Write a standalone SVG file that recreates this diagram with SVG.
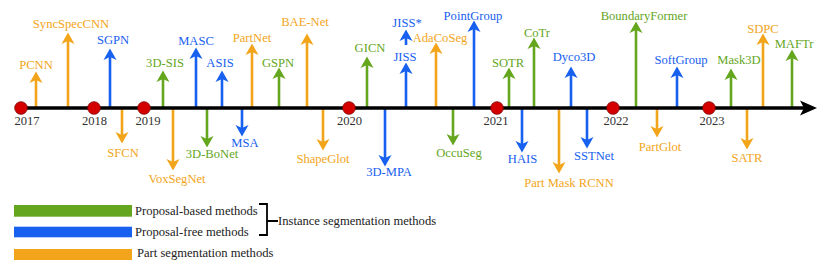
<svg xmlns="http://www.w3.org/2000/svg" width="830" height="274" viewBox="0 0 830 274" font-family="'Liberation Serif', 'DejaVu Serif', serif">
<style>
text{font-family:'Liberation Serif','DejaVu Serif',serif;font-size:12.6px;text-anchor:middle}
.g{fill:#64a61e}.b{fill:#1760f0}.o{fill:#f2a51a}
.lg{stroke:#64a61e}.lb{stroke:#1760f0}.lo{stroke:#f2a51a}
line.a{stroke-width:2.6}
.yr{fill:#333}
.leg{text-anchor:start;fill:#222}
</style>
<defs>
<marker id="mg" markerUnits="userSpaceOnUse" markerWidth="12" markerHeight="14" viewBox="0 0 12 14" refX="8" refY="7" orient="auto"><path d="M0,0.5 L11.5,7 L0,13.5 L3,7 Z" fill="#64a61e"/></marker>
<marker id="mb" markerUnits="userSpaceOnUse" markerWidth="12" markerHeight="14" viewBox="0 0 12 14" refX="8" refY="7" orient="auto"><path d="M0,0.5 L11.5,7 L0,13.5 L3,7 Z" fill="#1760f0"/></marker>
<marker id="mo" markerUnits="userSpaceOnUse" markerWidth="12" markerHeight="14" viewBox="0 0 12 14" refX="8" refY="7" orient="auto"><path d="M0,0.5 L11.5,7 L0,13.5 L3,7 Z" fill="#f2a51a"/></marker>
</defs>

<g id="connectors">
<line class="a lo" x1="36" y1="107" x2="36" y2="75" marker-end="url(#mo)"/>
<line class="a lo" x1="68" y1="107" x2="68" y2="36" marker-end="url(#mo)"/>
<line class="a lb" x1="110" y1="107" x2="110" y2="52" marker-end="url(#mb)"/>
<line class="a lg" x1="163" y1="107" x2="163" y2="74" marker-end="url(#mg)"/>
<line class="a lb" x1="196" y1="107" x2="196" y2="51" marker-end="url(#mb)"/>
<line class="a lb" x1="222" y1="107" x2="222" y2="74" marker-end="url(#mb)"/>
<line class="a lo" x1="252" y1="107" x2="252" y2="47" marker-end="url(#mo)"/>
<line class="a lg" x1="279" y1="107" x2="279" y2="71" marker-end="url(#mg)"/>
<line class="a lo" x1="307" y1="107" x2="307" y2="37" marker-end="url(#mo)"/>
<line class="a lg" x1="367" y1="107" x2="367" y2="60" marker-end="url(#mg)"/>
<line class="a lb" x1="406" y1="107" x2="406" y2="66" marker-end="url(#mb)"/>
<line class="a lb" x1="406" y1="45" x2="406" y2="33" marker-end="url(#mb)"/>
<line class="a lo" x1="436" y1="107" x2="436" y2="46" marker-end="url(#mo)"/>
<line class="a lb" x1="474" y1="107" x2="474" y2="24" marker-end="url(#mb)"/>
<line class="a lg" x1="509" y1="107" x2="509" y2="71" marker-end="url(#mg)"/>
<line class="a lg" x1="534" y1="107" x2="534" y2="41" marker-end="url(#mg)"/>
<line class="a lb" x1="571" y1="107" x2="571" y2="70" marker-end="url(#mb)"/>
<line class="a lg" x1="636" y1="107" x2="636" y2="25" marker-end="url(#mg)"/>
<line class="a lb" x1="677" y1="107" x2="677" y2="70" marker-end="url(#mb)"/>
<line class="a lg" x1="731" y1="107" x2="731" y2="72" marker-end="url(#mg)"/>
<line class="a lo" x1="763" y1="107" x2="763" y2="37" marker-end="url(#mo)"/>
<line class="a lg" x1="792" y1="107" x2="792" y2="53" marker-end="url(#mg)"/>
<line class="a lo" x1="122" y1="109" x2="122" y2="140" marker-end="url(#mo)"/>
<line class="a lo" x1="173" y1="109" x2="173" y2="167" marker-end="url(#mo)"/>
<line class="a lg" x1="207" y1="109" x2="207" y2="144" marker-end="url(#mg)"/>
<line class="a lb" x1="242" y1="109" x2="242" y2="133" marker-end="url(#mb)"/>
<line class="a lo" x1="323" y1="109" x2="323" y2="147" marker-end="url(#mo)"/>
<line class="a lb" x1="385" y1="109" x2="385" y2="163" marker-end="url(#mb)"/>
<line class="a lg" x1="453" y1="109" x2="453" y2="142" marker-end="url(#mg)"/>
<line class="a lb" x1="522" y1="109" x2="522" y2="149" marker-end="url(#mb)"/>
<line class="a lo" x1="559" y1="109" x2="559" y2="170" marker-end="url(#mo)"/>
<line class="a lb" x1="587" y1="109" x2="587" y2="145" marker-end="url(#mb)"/>
<line class="a lo" x1="657" y1="109" x2="657" y2="134" marker-end="url(#mo)"/>
<line class="a lo" x1="747" y1="109" x2="747" y2="146" marker-end="url(#mo)"/>
</g>

<g id="timeline">
<line x1="15" y1="108" x2="806" y2="108" stroke="#000" stroke-width="3.6"/>
<path d="M817,108 L800,100.5 L804,108 L800,115.5 Z" fill="#000"/>
<g fill="#d40000" stroke="#7a0000" stroke-width="0.8">
<circle cx="21" cy="108" r="6.3"/>
<circle cx="94" cy="108" r="6.3"/>
<circle cx="144" cy="108" r="6.3"/>
<circle cx="349" cy="108" r="6.3"/>
<circle cx="497" cy="108" r="6.3"/>
<circle cx="613" cy="108" r="6.3"/>
<circle cx="709" cy="108" r="6.3"/>
</g>
<text class="yr" x="27" y="125">2017</text>
<text class="yr" x="94.5" y="125">2018</text>
<text class="yr" x="148" y="125">2019</text>
<text class="yr" x="349.5" y="125">2020</text>
<text class="yr" x="496" y="125">2021</text>
<text class="yr" x="616" y="125">2022</text>
<text class="yr" x="712" y="125">2023</text>
</g>

<g id="labels">
<text id="PCNN" class="o" x="36" y="68.5">PCNN</text>
<text id="SyncSpecCNN" class="o" x="71" y="27.5">SyncSpecCNN</text>
<text id="SGPN" class="b" x="113" y="44.3">SGPN</text>
<text id="3D-SIS" class="g" x="165" y="67">3D-SIS</text>
<text id="MASC" class="b" x="196" y="44.5">MASC</text>
<text id="ASIS" class="b" x="220" y="67">ASIS</text>
<text id="PartNet" class="o" x="252" y="41.6">PartNet</text>
<text id="GSPN" class="g" x="278" y="66.5">GSPN</text>
<text id="BAE-Net" class="o" x="305" y="26">BAE-Net</text>
<text id="GICN" class="g" x="370" y="52">GICN</text>
<text id="JISS" class="b" x="405" y="60.5">JISS</text>
<text id="JISS-star" class="b" x="407" y="27.3">JISS*</text>
<text id="AdaCoSeg" class="o" x="440" y="42">AdaCoSeg</text>
<text id="PointGroup" class="b" x="473" y="20">PointGroup</text>
<text id="SOTR" class="g" x="508" y="66.5">SOTR</text>
<text id="CoTr" class="g" x="537" y="36.5">CoTr</text>
<text id="Dyco3D" class="b" x="574" y="61">Dyco3D</text>
<text id="BoundaryFormer" class="g" x="644" y="20.3">BoundaryFormer</text>
<text id="SoftGroup" class="b" x="681" y="64">SoftGroup</text>
<text id="Mask3D" class="g" x="739" y="64.3">Mask3D</text>
<text id="SDPC" class="o" x="763" y="33.3">SDPC</text>
<text id="MAFTr" class="g" x="794" y="47.6">MAFTr</text>
<text id="SFCN" class="o" x="123" y="157">SFCN</text>
<text id="VoxSegNet" class="o" x="177" y="182.6">VoxSegNet</text>
<text id="3D-BoNet" class="g" x="212" y="158.3">3D-BoNet</text>
<text id="MSA" class="b" x="245" y="146.6">MSA</text>
<text id="ShapeGlot" class="o" x="323" y="163.3">ShapeGlot</text>
<text id="3D-MPA" class="b" x="389" y="176">3D-MPA</text>
<text id="OccuSeg" class="g" x="459" y="156.6">OccuSeg</text>
<text id="HAIS" class="b" x="522.5" y="163.3">HAIS</text>
<text id="PartMaskRCNN" class="o" x="569" y="186.6">Part Mask RCNN</text>
<text id="SSTNet" class="b" x="594" y="160">SSTNet</text>
<text id="PartGlot" class="o" x="660" y="151">PartGlot</text>
<text id="SATR" class="o" x="747" y="161.6">SATR</text>
</g>

<g id="legend">
<rect x="14" y="205" width="118" height="11.7" fill="#64a61e"/>
<rect x="14" y="226.7" width="118" height="10.6" fill="#1760f0"/>
<rect x="14" y="249" width="118" height="11" fill="#f2a51a"/>
<text class="leg" x="135" y="215">Proposal-based methods</text>
<text class="leg" x="135" y="236">Proposal-free methods</text>
<text class="leg" x="137" y="257">Part segmentation methods</text>
<path d="M259,204 H267 V235 H259 M267,221 H278" fill="none" stroke="#000" stroke-width="1.8"/>
<text class="leg" x="278" y="225">Instance segmentation methods</text>
</g>
</svg>
